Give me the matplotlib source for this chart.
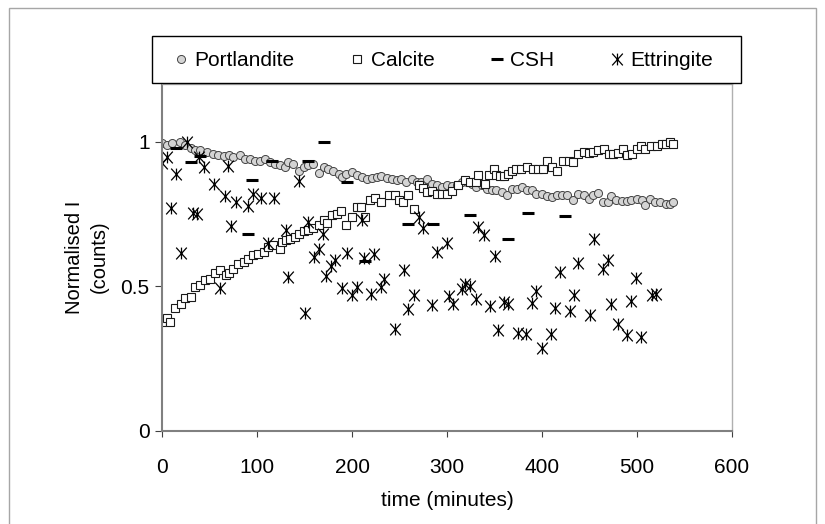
import matplotlib
matplotlib.use("Agg")
import matplotlib.pyplot as plt
from matplotlib.path import Path
from matplotlib.patches import Rectangle

plt.rcParams['font.family'] = ['Liberation Sans', 'DejaVu Sans']

# --- data (time in minutes, normalised intensity) ---
port_t = [0, 5, 10, 19, 24, 30, 35, 40, 47, 54, 59, 65, 70, 75, 82, 87, 93, 98, 103, 108,
          114, 119, 124, 129, 133, 138, 144, 149, 154, 159, 165, 170, 175, 180, 186, 189, 194,
          200, 205, 210, 216, 221, 226, 231, 237, 242, 247, 252, 257, 263, 268, 273, 279, 284,
          289, 295, 300, 305, 310, 316, 321, 326, 331, 337, 342, 347, 352, 358, 363, 368, 374,
          379, 384, 389, 394, 400, 405, 410, 416, 421, 426, 433, 438, 444, 449, 454, 459, 464,
          469, 473, 478, 484, 489, 494, 500, 505, 508, 514, 519, 524, 530, 535, 538]
port_v = [0.997, 0.99, 0.997, 0.999, 0.99, 0.978, 0.97, 0.973, 0.964, 0.958, 0.953, 0.95, 0.953,
          0.947, 0.955, 0.941, 0.94, 0.935, 0.935, 0.941, 0.93, 0.924, 0.918, 0.913, 0.93, 0.924,
          0.90, 0.913, 0.918, 0.924, 0.893, 0.913, 0.905, 0.90, 0.89, 0.878, 0.89, 0.895, 0.884,
          0.878, 0.872, 0.875, 0.878, 0.881, 0.875, 0.87, 0.866, 0.872, 0.862, 0.872, 0.86, 0.86,
          0.872, 0.855, 0.849, 0.843, 0.849, 0.847, 0.849, 0.86, 0.86, 0.855, 0.843, 0.849, 0.838,
          0.832, 0.832, 0.826, 0.815, 0.838, 0.838, 0.843, 0.832, 0.832, 0.82, 0.82, 0.812, 0.809,
          0.815, 0.815, 0.817, 0.80, 0.82, 0.815, 0.803, 0.815, 0.822, 0.791, 0.791, 0.813, 0.80,
          0.795, 0.795, 0.80, 0.803, 0.80, 0.782, 0.803, 0.791, 0.791, 0.786, 0.786, 0.79]

calc_t = [0, 5, 8, 14, 20, 24, 30, 35, 40, 45, 51, 56, 61, 67, 71, 75, 80, 86, 91, 96, 101,
          107, 112, 117, 124, 126, 130, 135, 140, 144, 149, 154, 159, 165, 170, 174, 179, 184,
          188, 194, 200, 205, 209, 214, 219, 224, 231, 239, 245, 249, 254, 259, 265, 270, 275,
          279, 284, 289, 295, 300, 305, 312, 319, 324, 330, 333, 340, 344, 349, 352, 356, 360,
          364, 368, 373, 378, 384, 391, 396, 401, 405, 410, 416, 422, 428, 433, 438, 444, 449,
          454, 459, 465, 470, 475, 480, 485, 489, 495, 500, 504, 508, 515, 521, 526, 531, 535, 538]
calc_v = [0.375, 0.389, 0.375, 0.425, 0.44, 0.46, 0.463, 0.498, 0.503, 0.52, 0.524, 0.547, 0.555,
          0.538, 0.547, 0.561, 0.578, 0.584, 0.593, 0.607, 0.613, 0.619, 0.636, 0.642, 0.63, 0.653,
          0.659, 0.664, 0.672, 0.682, 0.69, 0.693, 0.70, 0.711, 0.728, 0.72, 0.745, 0.75, 0.762,
          0.711, 0.74, 0.774, 0.774, 0.74, 0.797, 0.805, 0.791, 0.817, 0.815, 0.797, 0.791, 0.817,
          0.768, 0.849, 0.84, 0.826, 0.83, 0.82, 0.82, 0.82, 0.83, 0.849, 0.866, 0.86, 0.86, 0.884,
          0.855, 0.884, 0.907, 0.884, 0.88, 0.88, 0.89, 0.90, 0.907, 0.907, 0.912, 0.907, 0.907,
          0.907, 0.935, 0.912, 0.90, 0.935, 0.935, 0.93, 0.958, 0.964, 0.962, 0.964, 0.97, 0.976,
          0.958, 0.958, 0.96, 0.976, 0.955, 0.958, 0.976, 0.985, 0.976, 0.987, 0.987, 0.993, 0.993,
          0.999, 0.993]

csh_t = [15, 30, 40, 90, 95, 116, 154, 170, 195, 214, 259, 285, 324, 364, 385, 424]
csh_v = [0.98, 0.93, 0.95, 0.68, 0.866, 0.933, 0.932, 1.0, 0.86, 0.586, 0.717, 0.717, 0.745,
         0.662, 0.753, 0.742]

ett_t = [0, 5, 9.5, 15, 20.5, 26, 33, 37, 39, 44, 55, 61, 66, 69, 73, 78, 90, 96, 104, 112,
         118, 130, 133, 144, 150, 154, 160, 165, 169, 173, 178, 182, 189, 195, 200, 205, 210,
         213, 220, 223, 230, 234, 245, 255, 259, 265, 270, 275, 284, 289, 300, 302, 306, 316,
         319, 324, 330, 333, 339, 345, 350, 354, 360, 364, 375, 383, 389, 394, 400, 409, 414,
         419, 429, 434, 438, 450, 455, 464, 469, 473, 480, 489, 494, 499, 504, 516, 520]
ett_v = [0.926, 0.946, 0.772, 0.89, 0.616, 1.0, 0.755, 0.75, 0.948, 0.913, 0.855, 0.495, 0.813,
         0.917, 0.709, 0.79, 0.778, 0.818, 0.807, 0.651, 0.807, 0.694, 0.532, 0.865, 0.406, 0.722,
         0.60, 0.63, 0.68, 0.535, 0.57, 0.59, 0.495, 0.616, 0.47, 0.498, 0.73, 0.598, 0.472,
         0.612, 0.497, 0.526, 0.353, 0.557, 0.422, 0.468, 0.738, 0.70, 0.435, 0.62, 0.651, 0.465,
         0.44, 0.49, 0.509, 0.50, 0.457, 0.705, 0.678, 0.432, 0.605, 0.348, 0.445, 0.437, 0.337,
         0.334, 0.442, 0.485, 0.287, 0.333, 0.425, 0.548, 0.416, 0.471, 0.582, 0.402, 0.665,
         0.56, 0.592, 0.44, 0.37, 0.33, 0.448, 0.527, 0.325, 0.47, 0.472]

x_ticks = [0, 100, 200, 300, 400, 500, 600]
y_ticks = [0, 0.5, 1]
y_ticklabels = ['0', '0.5', '1']

# X with a vertical bar, like the spreadsheet star marker
star = Path([(-0.9, -1), (0.9, 1), (-0.9, 1), (0.9, -1), (0, -1), (0, 1)],
            [Path.MOVETO, Path.LINETO, Path.MOVETO, Path.LINETO, Path.MOVETO, Path.LINETO])

fig = plt.figure(figsize=(8.25, 5.24), dpi=100)
ax = fig.add_axes([162 / 825, 1 - 430.7 / 524, 570 / 825, 346.7 / 524])

ax.plot(port_t, port_v, ls='none', marker='o', ms=5.8, mfc='#d4d4d4', mec='#444444', mew=0.7,
        label='Portlandite')
ax.plot(calc_t, calc_v, ls='none', marker='s', ms=5.8, mfc='white', mec='#1a1a1a', mew=0.8,
        label='Calcite')
ax.plot(csh_t, csh_v, ls='none', marker='_', ms=8.5, mec='black', mew=2.2, label='CSH')
ax.plot(ett_t, ett_v, ls='none', marker=star, ms=8.5, mec='black', mfc='none', mew=0.9,
        label='Ettringite')

ax.set_xlim(0, 600)
ax.set_ylim(0, 1.2)
ax.set_xticks(x_ticks)
ax.set_yticks(y_ticks)
ax.set_yticklabels(y_ticklabels)
ax.tick_params(axis='x', direction='out', length=4.5, width=0.8, color='#404040',
               labelsize=15, pad=15)
ax.tick_params(axis='y', direction='out', length=5, width=0.8, color='#404040',
               labelsize=15, pad=4)
for s in ['left', 'bottom']:
    ax.spines[s].set_color('#808080')
    ax.spines[s].set_linewidth(1.5)
for s in ['top', 'right']:
    ax.spines[s].set_color('#b0b0b0')
    ax.spines[s].set_linewidth(1.0)

fig.text(87 / 825, 1 - 257 / 524, 'Normalised I\n(counts)', rotation=90, fontsize=14.5,
         ha='center', va='center', multialignment='center', linespacing=1.35)
fig.text(447 / 825, 1 - 501 / 524, 'time (minutes)', fontsize=15, ha='center', va='center')

leg = fig.legend(loc='center', bbox_to_anchor=(444 / 825, 1 - 61 / 524), ncol=4,
                 fontsize=15, frameon=False,
                 handlelength=0.6, handletextpad=0.35, columnspacing=2.7, borderpad=0.5,
                 borderaxespad=0)

# legend box and outer chart border
fig.patches.append(Rectangle((151.5 / 825, 1 - 83 / 524), 589.3 / 825, 47 / 524,
                             transform=fig.transFigure, fill=False, edgecolor='black', lw=1))
fig.patches.append(Rectangle((9 / 825, -0.02), 807 / 825, 1.02 - 8 / 524,
                             transform=fig.transFigure, fill=False, edgecolor='#a6a6a6', lw=1))

fig.savefig('out.png', dpi=100)
